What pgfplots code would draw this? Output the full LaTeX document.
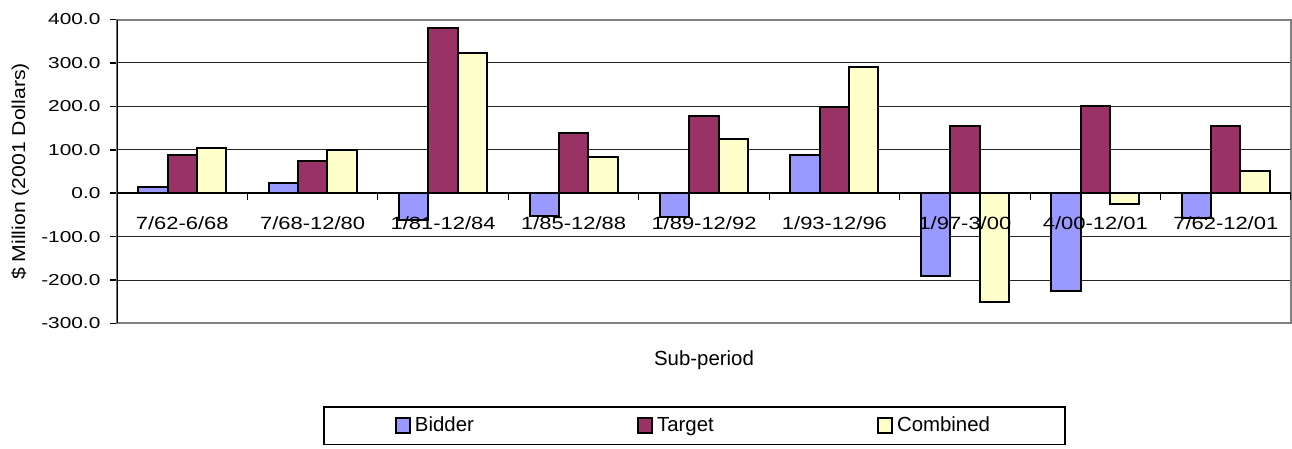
\documentclass[border=0pt]{standalone}
\usepackage{pgfplots}
\pgfplotsset{compat=1.18}
\usepackage{fontspec}
\setmainfont{Liberation Sans}
\newfontfamily\tickfont{Liberation Sans}[FakeStretch=1.32]
\newfontfamily\catfont{Liberation Sans}[FakeStretch=1.24]
\newfontfamily\ylabfont{Liberation Sans}[FakeStretch=1.14]
\definecolor{bidder}{HTML}{9999FF}
\definecolor{target}{HTML}{993366}
\definecolor{combined}{HTML}{FFFFCC}
\definecolor{frame}{HTML}{808080}

\begin{document}
\begin{tikzpicture}
\path[use as bounding box] (-58.5pt,-62.75pt) rectangle (587.5pt,161.75pt);
\begin{axis}[
  at={(0pt,0pt)}, anchor=south west,
  scale only axis, width=587pt, height=152pt,
  xmin=-0.5, xmax=8.5, ymin=-300, ymax=400,
  ytick={-300,-200,...,400},
  xtick=\empty,
  tick align=outside,
  major tick length=3.5pt,
  y tick style={black, line width=0.75pt},
  /pgf/number format/assume math mode=true,
  yticklabel style={font=\tickfont\fontsize{7.9pt}{9pt}\selectfont, anchor=east, inner sep=0pt, xshift=-4.6pt,
    /pgf/number format/.cd, fixed, fixed zerofill, precision=1},
  ymajorgrids,
  major grid style={black!85, line width=0.5pt},
  axis line style={draw=frame, line width=1pt},
  ybar=0pt, bar width=14.65pt,
  ylabel={\$ Million (2001 Dollars)},
  ylabel style={font=\ylabfont\fontsize{9.3pt}{11pt}\selectfont, at={(axis description cs:-0.0824,0.5)}, anchor=center},
  xlabel={Sub-period},
  xlabel style={font=\fontsize{10.2pt}{12pt}\selectfont, at={(axis description cs:0.5,0)}, anchor=base, yshift=-21.1pt},
  legend columns=3,
  legend cell align=left,
  legend image code/.code={\draw[#1, line width=1pt] (0pt,-3.5pt) rectangle (7pt,3.8pt);},
  legend style={at={(axis description cs:0.4919,-0.3365)}, anchor=center, draw=black, line width=0.6pt,
    font=\fontsize{10.2pt}{12pt}\selectfont, inner xsep=35.5pt, inner ysep=3pt,
    nodes={inner xsep=2pt},
    /tikz/every odd column/.append style={column sep=0pt},
    /tikz/every even column/.append style={column sep=79.6pt}},
]
\addplot[fill=bidder, draw=black, line width=1pt] coordinates {(0,15) (1,23) (2,-61) (3,-52) (4,-55) (5,89) (6,-190) (7,-226) (8,-57)};
\addplot[fill=target, draw=black, line width=1pt] coordinates {(0,88) (1,74) (2,380) (3,138) (4,178) (5,199) (6,155) (7,201) (8,155)};
\addplot[fill=combined, draw=black, line width=1pt] coordinates {(0,103) (1,99) (2,322) (3,84) (4,124) (5,291) (6,-250) (7,-25) (8,52)};
\legend{Bidder,Target,Combined}
\draw[black, line width=0.75pt] (rel axis cs:0,0) -- (rel axis cs:0,1);
\draw[black, line width=0.75pt] (axis cs:-0.5,0) -- (axis cs:8.5,0);
\pgfplotsinvokeforeach{0.5,1.5,...,8.5}{\draw[black, line width=0.6pt] (axis cs:#1,0) -- ++(0pt,-3.5pt);}
\end{axis}
\begin{axis}[
  at={(0pt,0pt)}, anchor=south west,
  scale only axis, width=587pt, height=152pt,
  xmin=-0.5, xmax=8.5, ymin=-300, ymax=400,
  axis line style={draw=none},
  ytick=\empty,
  xtick={0,...,8},
  xticklabels={7/62-6/68,7/68-12/80,1/81-12/84,1/85-12/88,1/89-12/92,1/93-12/96,1/97-3/00,4/00-12/01,7/62-12/01},
  x tick style={draw=none},
  xticklabel style={font=\catfont\fontsize{8.85pt}{10pt}\selectfont, anchor=base, yshift=47.1pt},
]
\end{axis}
\end{tikzpicture}
\end{document}
